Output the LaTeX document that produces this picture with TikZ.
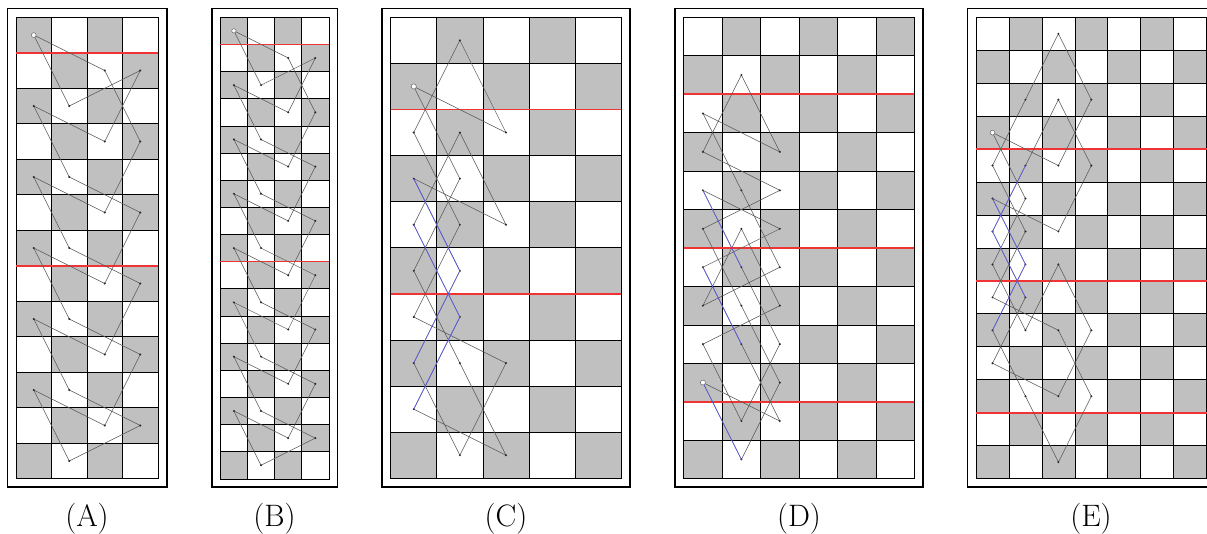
\documentclass[tikz,border=0pt]{standalone}
\usetikzlibrary{positioning}
\definecolor{cellgray}{HTML}{C0C0C0}
\definecolor{tourgray}{HTML}{5A5A5A}
\definecolor{tourblue}{HTML}{5A5AF0}
\definecolor{cutred}{HTML}{F03434}

\tikzset{
  cell/.style={draw=black,line width=.7pt},
  tour/.style={draw=tourgray,line width=.55pt,line join=round},
  bluetour/.style={draw=tourblue,line width=.6pt},
  cut/.style={draw=cutred,line width=1.6pt},
  frame/.style={draw=black,line width=1.8pt},
  vertexdot/.style={fill=black!85},
  startmark/.style={draw=black!60,fill=white,line width=.5pt},
  caption/.style={font=\fontsize{31}{36}\selectfont,anchor=base}
}

% name, left, cell size, last column, last row, parity
\newcommand\chessboard[6]{%
  \foreach \c in {0,...,#4}{\foreach \r in {0,...,#5}{%
    \pgfmathtruncatemacro\shade{mod(\c+\r+#6,2)}%
    \ifnum\shade=0 \fill[cellgray] ({#2+\c*#3},{17.3+\r*#3}) rectangle +(#3,#3);\fi
    \coordinate (#1-\c-\r) at ({#2+(\c+.5)*#3},{17.3+(\r+.5)*#3});
  }}
  \foreach \c in {0,...,#4}{\foreach \r in {0,...,#5}{%
    \draw[cell] ({#2+\c*#3},{17.3+\r*#3}) rectangle +(#3,#3);}}
  \draw[frame] ({#2-8.6},8.6) rectangle ({#2+(#4+1)*#3+8.6},487.2);
}
% left, cell size, width in cells, rows with a cut
\newcommand\cutlines[4]{%
  \foreach \cutrow in {#4}
    \draw[cut] ({#1},{17.3+\cutrow*#2}) -- ++({#3*#2},0);
}
% name, start square, list of squares
\newcommand\knighttour[3]{%
  \draw[tour] (#1-#2) \foreach \p in #3 {-- (#1-\p)} -- cycle;
  \foreach \p in #3 \fill[vertexdot] (#1-\p) circle (1.1pt);
}

\newcommand\tourA{0-0,2-1,3-3,2-5,0-4,1-6,3-7,2-9,0-8,1-10,3-11,1-12,0-10,2-11,3-9,1-8,0-6,2-7,3-5,1-4,0-2,2-3,3-1,1-2}
\newcommand\tourB{0-0,2-1,3-3,2-5,0-4,1-6,3-7,2-9,0-8,1-10,3-11,2-13,0-12,1-14,3-15,1-16,0-14,2-15,3-13,1-12,0-10,2-11,3-9,1-8,0-6,2-7,3-5,1-4,0-2,2-3,3-1,1-2}
\newcommand\tourC{0-1,2-2,1-0,0-2,1-4,0-6,2-7,1-9,0-7,1-5,0-3,2-4,1-2,0-4,1-6,0-8,2-9,1-7,0-5,1-3}
\newcommand\tourD{0-9,2-10,1-8,0-6,2-5,0-4,1-6,2-8,1-10,0-8,2-7,1-5,0-7,2-6,1-4,0-2,2-3,1-1,0-3,2-4,0-5,1-7,2-9,1-11}
\newcommand\tourE{0-3,2-4,3-2,2-0,1-2,0-4,1-6,0-8,2-9,3-11,2-13,1-11,0-9,1-7,0-5,2-6,3-4,2-2,1-4,0-6,1-8,0-10,2-11,3-9,2-7,1-9,0-7,1-5}

\begin{document}
\begin{tikzpicture}[x=1pt,y=-1pt]
\clip (0,0) rectangle (1207,534);
\fill[white] (0,0) rectangle (1207,534);

\chessboard{A}{16}{35.5}{3}{12}{0}
\chessboard{B}{220.3}{27.15}{3}{16}{0}
\chessboard{C}{390.7}{46.1}{4}{9}{1}
\chessboard{D}{683.7}{38.45}{5}{11}{1}
\chessboard{E}{976}{32.95}{6}{13}{1}

\cutlines{16}{35.5}{4}{1,7}
\cutlines{220.3}{27.15}{4}{1,9}
\cutlines{390.7}{46.1}{5}{2,6}
\cutlines{683.7}{38.45}{6}{2,6,10}
\cutlines{976}{32.95}{7}{4,8,12}

\knighttour{A}{0-0}{\tourA}
\knighttour{B}{0-0}{\tourB}
\knighttour{C}{0-1}{\tourC}
\knighttour{D}{0-9}{\tourD}
\knighttour{E}{0-3}{\tourE}

\draw[bluetour] (C-0-3) -- (C-1-5) -- (C-0-7) (C-0-4) -- (C-1-6) -- (C-0-8);
\draw[bluetour] (D-0-4) -- (D-1-6) (D-0-6) -- (D-1-8) (D-0-9) -- (D-1-11);
\draw[bluetour] (E-1-4) -- (E-0-6) -- (E-1-8) (E-0-5) -- (E-1-7) -- (E-0-9);

\draw[startmark] (A-0-0) circle (2.4pt);
\draw[startmark] (B-0-0) circle (2.2pt);
\draw[startmark] (C-0-1) circle (2.6pt);
\draw[startmark] (D-0-9) circle (2.5pt);
\draw[startmark] (E-0-3) circle (2.4pt);

\node[caption] (capA) at (87,526) {(A)};
\node[caption] (capB) at (274.6,526) {(B)};
\node[caption] (capC) at (506,526) {(C)};
\node[caption] (capD) at (799,526) {(D)};
\node[caption] (capE) at (1091,526) {(E)};
\end{tikzpicture}
\end{document}
